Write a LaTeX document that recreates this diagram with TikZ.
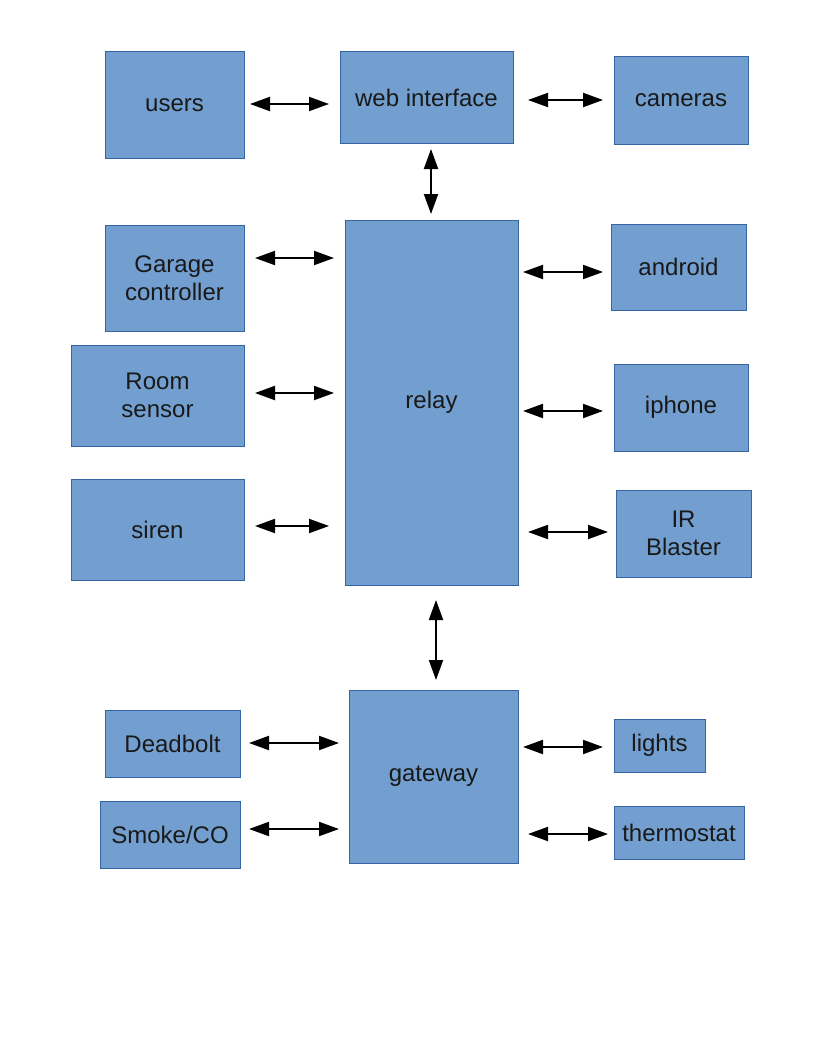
\documentclass[tikz,border=0pt]{standalone}
\usepackage{fontspec}
\setmainfont{Liberation Sans}
\usetikzlibrary{arrows.meta}
\definecolor{boxfill}{HTML}{729FCF}
\definecolor{boxline}{HTML}{3465A4}
\begin{document}
\begin{tikzpicture}[x=0.75pt,y=-0.75pt,
  box/.style={draw=boxline,fill=boxfill,line width=0.75pt,inner sep=0pt,outer sep=0pt,
    align=center,font=\fontsize{18}{20.7}\selectfont,text=black!90},
  arr/.style={line width=1.5pt,{Triangle[length=15pt,width=10.5pt]}-{Triangle[length=15pt,width=10.5pt]}}]
\useasboundingbox[fill=white] (0,0) rectangle (816,1056);
% boxes
\node[box,minimum width=104.25pt,minimum height=79.5pt] (users) at (174.5,105) {users};
\node[box,minimum width=129.75pt,minimum height=68.25pt] (web) at (426.5,97.5) {web interface};
\node[box,minimum width=100.5pt,minimum height=65.25pt] (cameras) at (681,100.5) {cameras};
\node[box,minimum width=129.75pt,minimum height=273.75pt] (relay) at (431.5,402.5) {relay};
\node[box,minimum width=104.25pt,minimum height=79.5pt] (garage) at (174.5,278) {Garage\\controller};
\node[box,minimum width=129.75pt,minimum height=75.75pt] (room) at (157.5,395.5) {Room\\sensor};
\node[box,minimum width=129.75pt,minimum height=75.75pt] (siren) at (157.5,529.5) {siren};
\node[box,minimum width=101.25pt,minimum height=64.5pt] (android) at (678.5,267) {android};
\node[box,minimum width=100.5pt,minimum height=65.25pt] (iphone) at (681,407.5) {iphone};
\node[box,minimum width=101.25pt,minimum height=65.25pt] (ir) at (683.5,533.5) {IR\\Blaster};
\node[box,minimum width=126.75pt,minimum height=129.75pt] (gateway) at (433.5,776.5) {gateway};
\node[box,minimum width=101.25pt,minimum height=50.25pt] (deadbolt) at (172.5,743.5) {Deadbolt};
\node[box,minimum width=105pt,minimum height=50.25pt] (smoke) at (170,834.5) {Smoke/CO};
\node[box,minimum width=68.25pt,minimum height=39.75pt] (lights) at (659.5,745.5) {lights};
\node[box,minimum width=97.5pt,minimum height=39.75pt] (thermo) at (679,832.5) {thermostat};
% arrow end points
\coordinate (uw1) at (250,104); \coordinate (uw2) at (329,104);
\coordinate (wc1) at (528,100); \coordinate (wc2) at (603,100);
\coordinate (wr1) at (431,149); \coordinate (wr2) at (431,214);
\coordinate (gr1) at (255,258); \coordinate (gr2) at (334,258);
\coordinate (rr1) at (255,393); \coordinate (rr2) at (334,393);
\coordinate (sr1) at (255,526); \coordinate (sr2) at (329,526);
\coordinate (ra1) at (523,272); \coordinate (ra2) at (603,272);
\coordinate (ri1) at (523,411); \coordinate (ri2) at (603,411);
\coordinate (rb1) at (528,532); \coordinate (rb2) at (608,532);
\coordinate (rg1) at (436,600); \coordinate (rg2) at (436,680);
\coordinate (dg1) at (249,743); \coordinate (dg2) at (339,743);
\coordinate (sg1) at (249,829); \coordinate (sg2) at (339,829);
\coordinate (gl1) at (523,747); \coordinate (gl2) at (603,747);
\coordinate (gt1) at (528,834); \coordinate (gt2) at (608,834);
% connectors
\draw[arr] (uw1) -- (uw2);
\draw[arr] (wc1) -- (wc2);
\draw[arr] (wr1) -- (wr2);
\draw[arr] (gr1) -- (gr2);
\draw[arr] (rr1) -- (rr2);
\draw[arr] (sr1) -- (sr2);
\draw[arr] (ra1) -- (ra2);
\draw[arr] (ri1) -- (ri2);
\draw[arr] (rb1) -- (rb2);
\draw[arr] (rg1) -- (rg2);
\draw[arr] (dg1) -- (dg2);
\draw[arr] (sg1) -- (sg2);
\draw[arr] (gl1) -- (gl2);
\draw[arr] (gt1) -- (gt2);
\end{tikzpicture}
\end{document}
